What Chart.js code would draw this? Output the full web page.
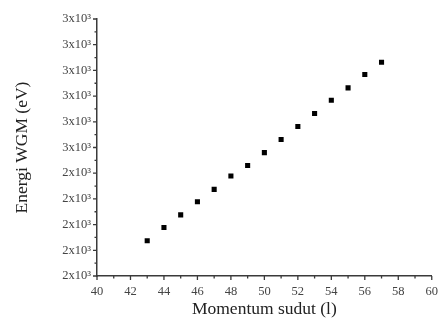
<!DOCTYPE html>
<html lang="id">
<head>
    <meta charset="UTF-8">
    <title>Energi WGM vs Momentum sudut</title>
    <script src="https://cdn.jsdelivr.net/npm/chart.js"></script>
    <style>
        html, body { margin: 0; padding: 0; background: #ffffff; }
        #wrap { width: 446px; height: 324px; }
    </style>
</head>
<body>
<div id="wrap"><canvas id="grafik" width="446" height="324"></canvas></div>
<script>
// data
const momentum = [43, 44, 45, 46, 47, 48, 49, 50, 51, 52, 53, 54, 55, 56, 57];
const energi   = [2137, 2189, 2238, 2289, 2337, 2389, 2430, 2480, 2531, 2582, 2632, 2684, 2732, 2784, 2832];

const xMin = 40, xMax = 60, xStep = 2;
const yMin = 2000, yMax = 3000, yStep = 100;

const judulX = 'Momentum sudut (l)';
const judulY = 'Energi WGM (eV)';

const warnaSumbu = '#3a3a3a';
const hurufSerif = "'Liberation Serif', 'DejaVu Serif', serif";

// tick mayor + minor ke arah luar
const tickPlugin = {
    id: 'tickLuar',
    afterDraw(chart) {
        const ctx = chart.ctx;
        const sx = chart.scales.x, sy = chart.scales.y;
        ctx.save();
        ctx.strokeStyle = warnaSumbu;
        ctx.lineWidth = 1.3;
        ctx.beginPath();
        sx.ticks.forEach((t, i) => {
            const px = sx.getPixelForValue(t.value);
            ctx.moveTo(px, sx.top); ctx.lineTo(px, sx.top + 4);
            if (i < sx.ticks.length - 1) {
                const pm = sx.getPixelForValue((t.value + sx.ticks[i + 1].value) / 2);
                ctx.moveTo(pm, sx.top); ctx.lineTo(pm, sx.top + 2.5);
            }
        });
        sy.ticks.forEach((t, i) => {
            const py = sy.getPixelForValue(t.value);
            ctx.moveTo(sy.right, py); ctx.lineTo(sy.right - 4, py);
            if (i < sy.ticks.length - 1) {
                const pm = sy.getPixelForValue((t.value + sy.ticks[i + 1].value) / 2);
                ctx.moveTo(sy.right, pm); ctx.lineTo(sy.right - 2.5, pm);
            }
        });
        ctx.stroke();
        ctx.restore();
    }
};

new Chart(document.getElementById('grafik'), {
    type: 'scatter',
    data: {
        datasets: [{
            data: momentum.map((l, i) => ({ x: l, y: energi[i] })),
            pointStyle: 'rect',
            pointRadius: 3.6,
            backgroundColor: '#000000',
            borderColor: '#000000',
            borderWidth: 0
        }]
    },
    options: {
        responsive: false,
        animation: false,
        layout: { padding: { top: 19, right: 6, bottom: 0, left: 0 } },
        plugins: { legend: { display: false }, tooltip: { enabled: false } },
        scales: {
            x: {
                type: 'linear',
                min: xMin, max: xMax,
                grid: { display: false, drawTicks: false },
                border: { display: true, color: warnaSumbu, width: 1.5 },
                ticks: {
                    stepSize: xStep,
                    autoSkip: false,
                    maxRotation: 0,
                    padding: 8,
                    color: '#444',
                    font: { family: hurufSerif, size: 12.5 }
                },
                title: {
                    display: true,
                    text: judulX,
                    color: '#222',
                    padding: { top: 0, bottom: 4 },
                    font: { family: hurufSerif, size: 17.5 }
                },
                afterFit(scale) { scale.height = 48; }
            },
            y: {
                type: 'linear',
                min: yMin, max: yMax,
                grid: { display: false, drawTicks: false },
                border: { display: true, color: warnaSumbu, width: 1.5 },
                ticks: {
                    stepSize: yStep,
                    autoSkip: false,
                    padding: 6,
                    color: '#444',
                    font: { family: hurufSerif, size: 12.5 },
                    callback: v => Math.round(v / 1000) + 'x10\u00B3'
                },
                title: {
                    display: true,
                    text: judulY,
                    color: '#222',
                    padding: { top: 12, bottom: 0 },
                    font: { family: hurufSerif, size: 17.5 }
                },
                afterFit(scale) { scale.width = 97; }
            }
        }
    },
    plugins: [tickPlugin]
});
</script>
</body>
</html>
